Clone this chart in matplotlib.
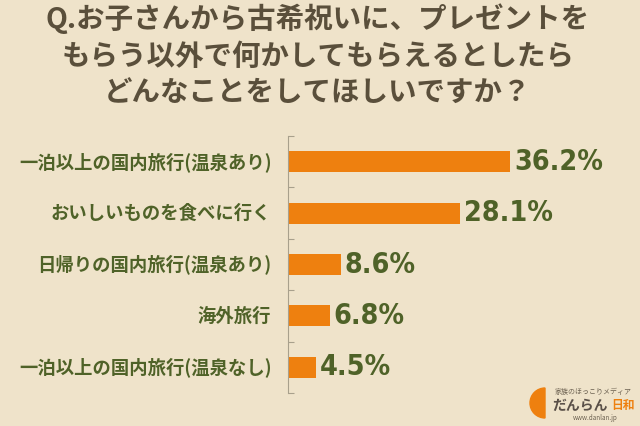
import matplotlib
matplotlib.use("Agg")
import matplotlib.pyplot as plt
from matplotlib.patches import Wedge

plt.rcParams['font.family'] = ['Noto Sans CJK JP', 'DejaVu Sans']

# data
categories = ["一泊以上の国内旅行(温泉あり)", "おいしいものを食べに行く",
              "日帰りの国内旅行(温泉あり)", "海外旅行", "一泊以上の国内旅行(温泉なし)"]
values = [36.2, 28.1, 8.6, 6.8, 4.5]
title_lines = ["Q.お子さんから古希祝いに、プレゼントを",
               "もらう以外で何かしてもらえるとしたら",
               "どんなことをしてほしいですか？"]

bg = "#EFE3CA"
orange = "#EE800F"
olive = "#4F6228"
brown = "#5A4F3B"
axis_col = "#A8A08C"

fig = plt.figure(figsize=(6.4, 4.26), dpi=100, facecolor=bg)
ax = fig.add_axes([0.45, 0.0775, 0.479, 0.603])
ax.set_facecolor(bg)

ypos = list(range(len(categories)))
ax.barh(ypos, values, height=0.41, color=orange)
ax.set_xlim(0, 50)
ax.set_ylim(len(categories) - 0.5, -0.5)

for s in ["top", "right", "bottom"]:
    ax.spines[s].set_visible(False)
ax.spines["left"].set_color(axis_col)
ax.spines["left"].set_linewidth(0.8)
ax.set_xticks([])
ax.set_yticks([i - 0.5 for i in range(len(categories) + 1)])
ax.set_yticklabels([])
ax.tick_params(axis="y", direction="in", length=4, color=axis_col, width=0.8)

for i, (lab, v) in enumerate(zip(categories, values)):
    ax.annotate(lab, (0, i), xytext=(-12, 0), textcoords="offset points",
                ha="right", va="center", fontsize=13.2, fontweight="bold",
                color=olive)
    ax.annotate(f"{v}%", (v, i), xytext=(3, 0), textcoords="offset points",
                ha="left", va="center", fontsize=20.5, fontweight="bold",
                color=olive, family="DejaVu Sans", fontstretch="condensed")

# title
for k, line in enumerate(title_lines):
    fig.text(318 / 640, 1 - (19 + 37.5 * k) / 426, line, ha="center",
             va="center", fontsize=20.5, fontweight="bold", color=brown)

# logo
fig.patches.append(Wedge((5.45, 0.23), 0.15, 90, 270, color=orange,
                         transform=fig.dpi_scale_trans))
fig.text(593 / 640, 1 - 392 / 426, "家族のほっこりメディア", ha="center",
         va="center", fontsize=5, color="#6B6050")
fig.text(552 / 640, 1 - 406 / 426, "だんらん", ha="left", va="center",
         fontsize=10, fontweight="bold", color="#5A5048")
fig.text(635 / 640, 1 - 406 / 426, "日和", ha="right", va="center",
         fontsize=8.5, fontweight="bold", color=orange)
fig.text(595 / 640, 1 - 418 / 426, "www.danlan.jp", ha="center",
         va="center", fontsize=4.5, color="#6B6050")

fig.savefig("out.png", dpi=100, facecolor=bg)
